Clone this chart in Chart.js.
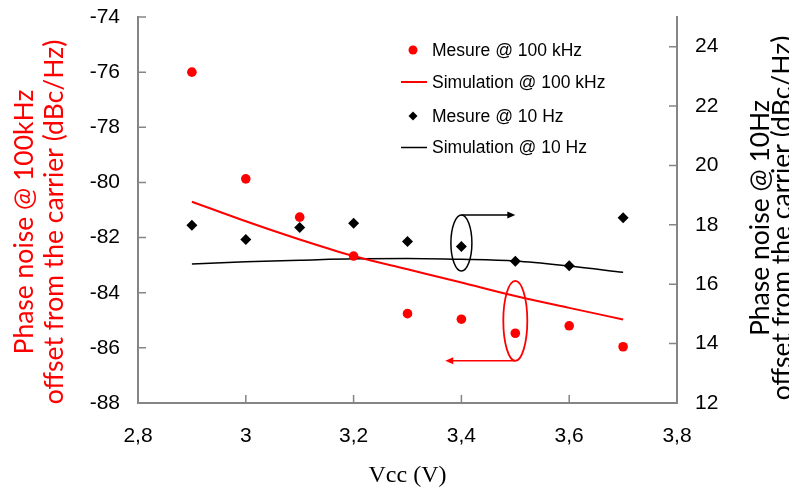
<!DOCTYPE html>
<html>
<head>
<meta charset="utf-8">
<script src="https://cdn.jsdelivr.net/npm/chart.js@4.4.1/dist/chart.umd.min.js"></script>
<style>
  html, body { margin: 0; padding: 0; background: #fff; }
  #wrap { width: 789px; height: 492px; }
</style>
</head>
<body>
<div id="wrap"><canvas id="noiseChart" width="789" height="492"></canvas></div>
<script>
// Vcc sweep (V)
const vcc = [2.9, 3.0, 3.1, 3.2, 3.3, 3.4, 3.5, 3.6, 3.7];
// phase noise @ 100 kHz, left axis (dBc/Hz)
const mesure100k = [-76.0, -79.87, -81.26, -82.67, -84.76, -84.96, -85.47, -85.2, -85.96];
const simu100k = [-80.7, -81.41, -82.07, -82.67, -83.15, -83.63, -84.12, -84.55, -84.97];
// phase noise @ 10 Hz, right axis
const mesure10 = [17.99, 17.51, 17.91, 18.05, 17.44, 17.27, 16.77, 16.62, 18.24];
const simu10 = [16.68, 16.76, 16.81, 16.86, 16.87, 16.84, 16.78, 16.61, 16.4];

// tick labels
const xTicks = [2.8, 3.0, 3.2, 3.4, 3.6, 3.8];
const xTickLabels = ['2,8', '3', '3,2', '3,4', '3,6', '3,8'];
const leftTicks = [-88, -86, -84, -82, -80, -78, -76, -74];
const rightTicks = [12, 14, 16, 18, 20, 22, 24];

const RED = '#ff0000';
const AXIS_GREY = '#858585';
const TITLE_FONT = '26.5px Lato';

const pts = (ys) => vcc.map((v, i) => ({ x: v, y: ys[i] }));

// ticks point into the plot, so draw them by hand
const inwardTicks = {
    id: 'inwardTicks',
    afterDraw(chart) {
        const { ctx, chartArea: a, scales } = chart;
        ctx.save();
        ctx.strokeStyle = AXIS_GREY;
        ctx.lineWidth = 1.5;
        ctx.beginPath();
        scales.x.ticks.forEach(t => {
            const px = scales.x.getPixelForValue(t.value);
            ctx.moveTo(px, a.bottom); ctx.lineTo(px, a.bottom - 8);
        });
        scales.y.ticks.forEach(t => {
            const py = scales.y.getPixelForValue(t.value);
            ctx.moveTo(a.left, py); ctx.lineTo(a.left + 8, py);
        });
        scales.y2.ticks.forEach(t => {
            const py = scales.y2.getPixelForValue(t.value);
            ctx.moveTo(a.right - 8, py); ctx.lineTo(a.right, py);
        });
        ctx.stroke();
        ctx.restore();
    }
};

// axis titles
const titles = {
    id: 'titles',
    afterDraw(chart) {
        const { ctx, chartArea: a } = chart;
        ctx.save();
        ctx.font = '24px "Liberation Serif"';
        ctx.fillStyle = '#000';
        ctx.textAlign = 'center';
        ctx.textBaseline = 'alphabetic';
        ctx.fillText('Vcc (V)', (a.left + a.right) / 2, 482);

        ctx.font = TITLE_FONT;
        // left, red
        ctx.fillStyle = RED;
        ctx.save();
        ctx.translate(33, 222);
        ctx.rotate(-Math.PI / 2);
        ctx.fillText('Phase noise @ 100kHz', 0, 0);
        ctx.fillText('offset from the carrier (dBc/Hz)', 0, 30);
        ctx.restore();
        // right, black
        ctx.fillStyle = '#000';
        ctx.save();
        ctx.translate(769, 218);
        ctx.rotate(-Math.PI / 2);
        ctx.fillText('Phase noise @ 10Hz', 0, 0);
        ctx.fillText('offset from the carrier (dBc/Hz)', 0, 22);
        ctx.restore();
        ctx.restore();
    }
};

// legend sits inside the plot
const innerLegend = {
    id: 'innerLegend',
    afterDraw(chart) {
        const { ctx } = chart;
        const rows = [50, 82, 116, 147.5];
        ctx.save();
        ctx.font = '17.5px "Liberation Sans"';
        ctx.textBaseline = 'middle';
        ctx.textAlign = 'left';
        chart.data.datasets.forEach((ds, i) => {
            const y = rows[i];
            ctx.fillStyle = ds.borderColor;
            ctx.strokeStyle = ds.borderColor;
            if (ds.showLine) {
                ctx.lineWidth = ds.borderWidth;
                ctx.beginPath();
                ctx.moveTo(401, y); ctx.lineTo(427, y);
                ctx.stroke();
            } else if (ds.pointStyle === 'rectRot') {
                ctx.beginPath();
                ctx.moveTo(413, y - 4.5); ctx.lineTo(417.5, y);
                ctx.lineTo(413, y + 4.5); ctx.lineTo(408.5, y);
                ctx.closePath(); ctx.fill();
            } else {
                ctx.beginPath();
                ctx.arc(413, y, 4.5, 0, Math.PI * 2);
                ctx.fill();
            }
            ctx.fillStyle = '#000';
            ctx.fillText(ds.label, 432, y + 1);
        });
        ctx.restore();
    }
};

// ellipse + arrow showing which axis each series belongs to
function drawLoop(ctx, cx, cy, rx, ry, color, width, arrowX, side) {
    ctx.save();
    ctx.strokeStyle = color;
    ctx.fillStyle = color;
    ctx.lineWidth = width;
    ctx.beginPath();
    ctx.ellipse(cx, cy, rx, ry, 0, 0, Math.PI * 2);
    ctx.stroke();
    const ay = side === 'top' ? cy - ry : cy + ry;
    const dir = arrowX > cx ? 1 : -1;
    ctx.lineWidth = 1.5;
    ctx.beginPath();
    ctx.moveTo(cx, ay);
    ctx.lineTo(arrowX - dir * 7, ay);
    ctx.stroke();
    ctx.beginPath();
    ctx.moveTo(arrowX, ay);
    ctx.lineTo(arrowX - dir * 8, ay - 3.5);
    ctx.lineTo(arrowX - dir * 8, ay + 3.5);
    ctx.closePath();
    ctx.fill();
    ctx.restore();
}

const axisNotes = {
    id: 'axisNotes',
    afterDatasetsDraw(chart) {
        const { ctx, scales: { x, y, y2 } } = chart;
        drawLoop(ctx, x.getPixelForValue(3.4), y2.getPixelForValue(17.39), 10.5, 28, '#000', 1.5,
            x.getPixelForValue(3.5), 'top');
        drawLoop(ctx, x.getPixelForValue(3.5), y.getPixelForValue(-85.02), 12, 40, RED, 1.8,
            x.getPixelForValue(3.37), 'bottom');
    }
};

const tickFont = { family: 'Liberation Sans', size: 21 };

// fixed axis sizes so the plot area lands where the original one is
function fitY(width) {
    return s => {
        s.width = width;
        s.paddingTop = 0;
        s.paddingBottom = 0;
    };
}

new Chart(document.getElementById('noiseChart').getContext('2d'), {
    type: 'scatter',
    data: {
        datasets: [
            {
                label: 'Mesure @ 100 kHz',
                data: pts(mesure100k),
                yAxisID: 'y',
                showLine: false,
                pointStyle: 'circle',
                pointRadius: 4.8,
                backgroundColor: RED,
                borderColor: RED,
                borderWidth: 0
            },
            {
                label: 'Simulation @ 100 kHz',
                data: pts(simu100k),
                yAxisID: 'y',
                showLine: true,
                pointRadius: 0,
                borderColor: RED,
                borderWidth: 2,
                cubicInterpolationMode: 'monotone'
            },
            {
                label: 'Mesure @ 10 Hz',
                data: pts(mesure10),
                yAxisID: 'y2',
                showLine: false,
                pointStyle: 'rectRot',
                pointRadius: 5.5,
                backgroundColor: '#000',
                borderColor: '#000',
                borderWidth: 0
            },
            {
                label: 'Simulation @ 10 Hz',
                data: pts(simu10),
                yAxisID: 'y2',
                showLine: true,
                pointRadius: 0,
                borderColor: '#000',
                borderWidth: 1.5,
                cubicInterpolationMode: 'monotone'
            }
        ]
    },
    options: {
        responsive: false,
        animation: false,
        layout: { padding: { top: 17, left: 0, right: 0, bottom: 0 } },
        plugins: {
            legend: { display: false },
            tooltip: { enabled: false }
        },
        scales: {
            x: {
                type: 'linear',
                position: 'bottom',
                min: 2.8,
                max: 3.8,
                afterBuildTicks: s => { s.ticks = xTicks.map(v => ({ value: v })); },
                afterFit: s => { s.height = 89; },
                grid: { display: false },
                border: { display: true, color: AXIS_GREY, width: 2 },
                ticks: {
                    color: '#000',
                    font: tickFont,
                    padding: 13,
                    maxRotation: 0,
                    callback: (v) => xTickLabels[xTicks.indexOf(v)]
                }
            },
            y: {
                type: 'linear',
                position: 'left',
                min: -88,
                max: -74,
                afterBuildTicks: s => { s.ticks = leftTicks.map(v => ({ value: v })); },
                afterFit: fitY(138),
                grid: { display: false },
                border: { display: true, color: AXIS_GREY, width: 2 },
                ticks: { color: '#000', font: tickFont, padding: 10 }
            },
            y2: {
                type: 'linear',
                position: 'right',
                min: 12,
                max: 25,
                afterBuildTicks: s => { s.ticks = rightTicks.map(v => ({ value: v })); },
                afterFit: fitY(112),
                grid: { display: false },
                border: { display: true, color: AXIS_GREY, width: 2 },
                ticks: { color: '#000', font: tickFont, padding: 10 }
            }
        }
    },
    plugins: [axisNotes, inwardTicks, titles, innerLegend]
});
</script>
</body>
</html>
